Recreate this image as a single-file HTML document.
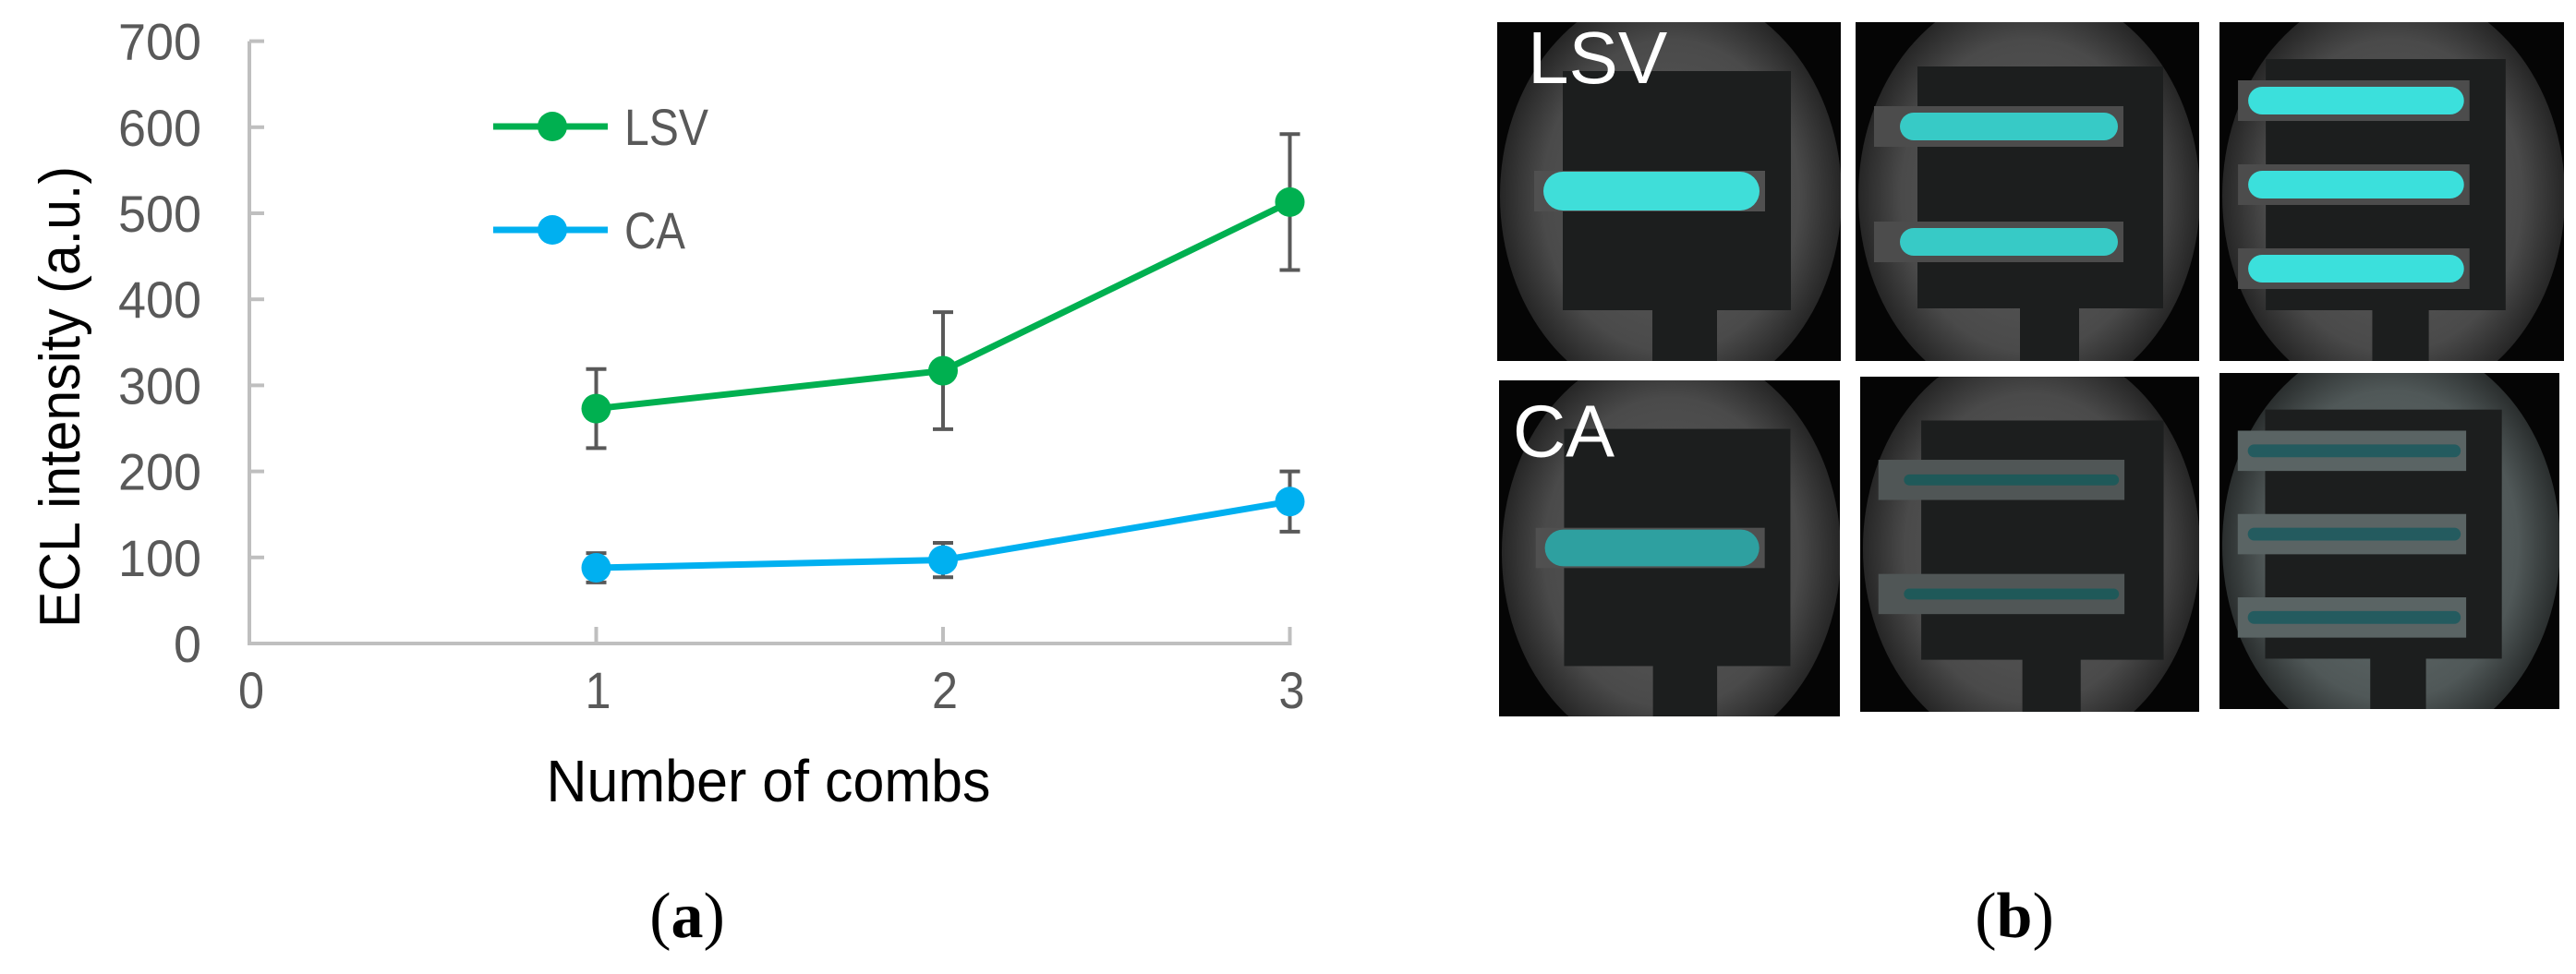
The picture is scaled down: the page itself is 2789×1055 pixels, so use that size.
<!DOCTYPE html>
<html><head><meta charset="utf-8"><style>
html,body{margin:0;padding:0;background:#fff;overflow:hidden;}
svg{display:block;}
text{font-family:"Liberation Sans",sans-serif;}
</style></head><body>
<svg id="fig" width="2789" height="1055" viewBox="0 0 2789 1055" xmlns="http://www.w3.org/2000/svg">
<defs>
<radialGradient id="disc" cx="50%" cy="50%" r="50%">
<stop offset="0%" stop-color="#5c5c5c"/><stop offset="75%" stop-color="#4a4a4a"/><stop offset="100%" stop-color="#262626"/>
</radialGradient>
<radialGradient id="disc2" cx="50%" cy="50%" r="50%">
<stop offset="0%" stop-color="#667070"/><stop offset="75%" stop-color="#505858"/><stop offset="100%" stop-color="#2a2e2e"/>
</radialGradient>
<clipPath id="pclip"><rect x="0" y="0" width="372" height="367"/></clipPath>
</defs>
<g id="chart"></g>
<g id="panels"></g>
<text x="744" y="1015" font-size="70" text-anchor="middle" style="font-family:'Liberation Serif',serif">(<tspan font-weight="bold">a</tspan>)</text>
<text x="2181" y="1015" font-size="70" text-anchor="middle" style="font-family:'Liberation Serif',serif">(<tspan font-weight="bold">b</tspan>)</text>
</svg>
<script>
const categories = [1, 2, 3];
const lsvValues = [273, 317, 513];
const lsvErrors = [46, 68, 79];
const caValues = [88, 97, 165];
const caErrors = [17, 20, 35];
const yTicks = [0, 100, 200, 300, 400, 500, 600, 700];
const xTicks = [0, 1, 2, 3];

const NS = 'http://www.w3.org/2000/svg';
const chart = document.getElementById('chart');
const X0 = 270, XS = 375.5, Y0 = 697, YS = 0.932;
function xs(v){ return X0 + v * XS; }
function ys(v){ return Y0 - v * YS; }
function mk(tag, attrs, parent){
  const e = document.createElementNS(NS, tag);
  for (const k in attrs) e.setAttribute(k, attrs[k]);
  (parent || chart).appendChild(e);
  return e;
}
let ax = mk('line', {x1: X0, y1: ys(700), x2: X0, y2: Y0, stroke: '#bfbfbf', 'stroke-width': 4});


ax = mk('line', {x1: X0 - 2, y1: Y0, x2: xs(3) + 2, y2: Y0, stroke: '#bfbfbf', 'stroke-width': 4});


yTicks.forEach(t => {
  const l = mk('line', {x1: X0, y1: ys(t), x2: X0 + 16, y2: ys(t), stroke: '#bfbfbf', 'stroke-width': 4});
  
  
  const s = String(t);
  const tx = mk('text', {x: 218, y: ys(t) + 20, 'font-size': 56, fill: '#595959', 'text-anchor': 'end', textLength: 30 * s.length, lengthAdjust: 'spacingAndGlyphs'});
  tx.textContent = s;
  
  
});
xTicks.forEach(t => {
  if (t > 0) {
    const l = mk('line', {x1: xs(t), y1: Y0, x2: xs(t), y2: Y0 - 18, stroke: '#bfbfbf', 'stroke-width': 4});
    
    
  }
  const tx = mk('text', {x: xs(t) + 2, y: 767, 'font-size': 56, fill: '#595959', 'text-anchor': 'middle', textLength: 28, lengthAdjust: 'spacingAndGlyphs'});
  tx.textContent = String(t);
  
  
});
let tt = mk('text', {x: 832, y: 868, 'font-size': 64, fill: '#000', 'text-anchor': 'middle', textLength: 481, lengthAdjust: 'spacingAndGlyphs'});
tt.textContent = 'Number of combs';


tt = mk('text', {x: 0, y: 0, 'font-size': 62, fill: '#000', 'text-anchor': 'middle', textLength: 500, lengthAdjust: 'spacingAndGlyphs', transform: 'translate(86,430) rotate(-90)'});
tt.textContent = 'ECL intensity (a.u.)';



function series(vals, errs, color, name){
  const g = mk('g', {});
  
  
  vals.forEach((v, i) => {
    const x = xs(categories[i]);
    const e = mk('path', {d: `M${x-11},${ys(v+errs[i])}H${x+11}M${x},${ys(v+errs[i])}V${ys(v-errs[i])}M${x-11},${ys(v-errs[i])}H${x+11}`, stroke: '#595959', 'stroke-width': 4, fill: 'none'}, g);
    
    
  });
  const pl = mk('polyline', {points: vals.map((v, i) => xs(categories[i]) + ',' + ys(v)).join(' '), stroke: color, 'stroke-width': 7, fill: 'none'}, g);
  
  
  vals.forEach((v, i) => {
    const c = mk('circle', {cx: xs(categories[i]), cy: ys(v), r: 16, fill: color}, g);
    
    
  });
}
series(lsvValues, lsvErrors, '#00b050', 'lsv');
series(caValues, caErrors, '#00b0f0', 'ca');

function legend(y, color, label, w){
  const g = mk('g', {});
  
  
  mk('line', {x1: 534, y1: y, x2: 658, y2: y, stroke: color, 'stroke-width': 7}, g);
  mk('circle', {cx: 598, cy: y, r: 16, fill: color}, g);
  const t = mk('text', {x: 676, y: y + 20, 'font-size': 56, fill: '#595959', textLength: w, lengthAdjust: 'spacingAndGlyphs'}, g);
  t.textContent = label;
}
legend(137, '#00b050', 'LSV', 91);
legend(249, '#00b0f0', 'CA', 66);

const panels = document.getElementById('panels');
function panel(px, py, w, h, spec){
  const outer = mk('g', {transform: `translate(${px},${py}) scale(${w/372},${h/367})`}, panels);
  
  
  const g = mk('g', {'clip-path': 'url(#pclip)'}, outer);
  mk('rect', {x: 0, y: 0, width: 372, height: 367, fill: '#050505'}, g);
  mk('ellipse', {cx: 188, cy: 188, rx: 185, ry: 225, fill: spec.grad}, g);
  mk('rect', {x: spec.rx, y: spec.ry, width: spec.rw, height: spec.rh, fill: '#1c1e1e'}, g);
  mk('rect', {x: spec.sx, y: spec.ry + spec.rh - 2, width: spec.sw, height: 367, fill: '#1c1e1e'}, g);
  spec.fingers.forEach(f => {
    mk('rect', {x: spec.bx, y: f - 22, width: spec.fx + 6 - spec.bx, height: 44, fill: spec.band}, g);
    mk('rect', {x: spec.fx0, y: f - spec.th/2, width: spec.fx - spec.fx0, height: spec.th, rx: spec.th/2, fill: spec.stripe, opacity: spec.op}, g);
  });
  if (spec.label) {
    const t = mk('text', {x: spec.lx, y: spec.ly, 'font-size': 80, fill: '#fff'}, g);
    t.textContent = spec.label;
  }
}
panel(1621, 24, 372, 367, {name:'lsv-1-comb', grad:'url(#disc)', rx:71, ry:53, rw:247, rh:259, sx:168, sw:70, fingers:[183], bx:40, fx:284, fx0:50, th:42, band:'#505050', stripe:'#3ee6e0', op:0.95, label:'LSV', lx:33, ly:66});
panel(2009, 24, 372, 367, {name:'lsv-2-comb', grad:'url(#disc)', rx:67, ry:48, rw:266, rh:262, sx:178, sw:64, fingers:[113, 238], bx:20, fx:284, fx0:48, th:30, band:'#4c4c4c', stripe:'#35d8d4', op:0.9});
panel(2403, 24, 373, 367, {name:'lsv-3-comb', grad:'url(#disc)', rx:50, ry:40, rw:259, rh:272, sx:165, sw:61, fingers:[85, 176, 267], bx:20, fx:264, fx0:31, th:30, band:'#4c4c4c', stripe:'#3ae8e4', op:0.95});
panel(1623, 412, 369, 364, {name:'ca-1-comb', grad:'url(#disc)', rx:71, ry:53, rw:247, rh:259, sx:168, sw:70, fingers:[183], bx:40, fx:284, fx0:50, th:40, band:'#505050', stripe:'#2aa8a8', op:0.9, label:'CA', lx:15, ly:83});
panel(2014, 408, 367, 363, {name:'ca-2-comb', grad:'url(#disc)', rx:67, ry:48, rw:266, rh:262, sx:178, sw:64, fingers:[113, 238], bx:20, fx:284, fx0:48, th:12, band:'#505656', stripe:'#1a5a5a', op:0.9});
panel(2403, 404, 368, 364, {name:'ca-3-comb', grad:'url(#disc2)', rx:50, ry:40, rw:259, rh:272, sx:165, sw:61, fingers:[85, 176, 267], bx:20, fx:264, fx0:31, th:14, band:'#5a6464', stripe:'#1e5a5e', op:0.9});
</script>
</body></html>
